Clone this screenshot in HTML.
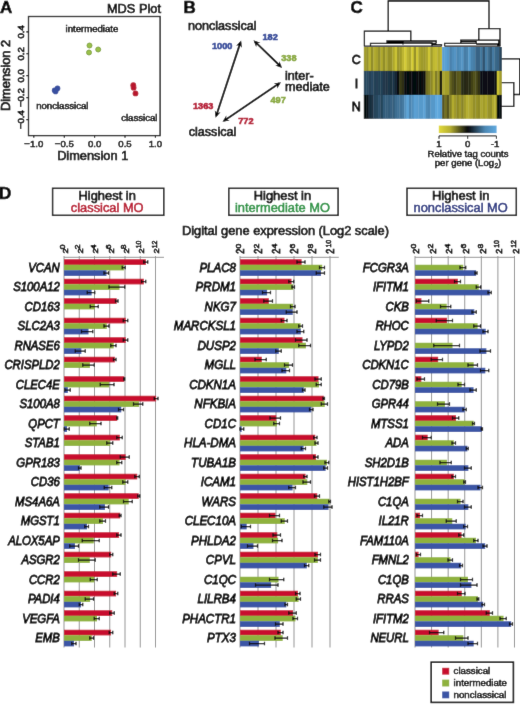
<!DOCTYPE html>
<html><head><meta charset="utf-8"><title>Figure</title>
<style>html,body{margin:0;padding:0;background:#fff;}svg{display:block;will-change:transform;transform:translateZ(0);}text{font-family:"Liberation Sans",sans-serif;}</style></head>
<body>
<svg width="520" height="705" viewBox="0 0 520 705">
<defs><filter id="soft" x="0" y="0" width="520" height="705" filterUnits="userSpaceOnUse"><feConvolveMatrix order="3" kernelMatrix="0.0049 0.0602 0.0049 0.0602 0.7396 0.0602 0.0049 0.0602 0.0049" divisor="1" edgeMode="duplicate" preserveAlpha="true"/></filter></defs>
<g filter="url(#soft)">
<rect x="-5" y="-5" width="530" height="715" fill="#fff"/>
<text x="0.00" y="12.90" font-size="17" text-anchor="start" font-weight="bold" font-style="normal" fill="#000" stroke="#000" stroke-width="0.55" >A</text>
<text x="161.00" y="12.60" font-size="12.8" text-anchor="end" font-weight="normal" font-style="normal" fill="#000" stroke="#000" stroke-width="0.62" >MDS Plot</text>
<rect x="28.5" y="16.5" width="131.6" height="119.1" fill="none" stroke="#000" stroke-width="1.3"/>
<path d="M26.3 31.9H28.5M26.3 53.8H28.5M26.3 75.6H28.5M26.3 97.6H28.5M26.3 119.6H28.5M33.8 135.5V137.8M64.3 135.5V137.8M94.6 135.5V137.8M125 135.5V137.8M155.4 135.5V137.8" stroke="#000" stroke-width="1.1" fill="none"/>
<text transform="translate(23.9,31.8) rotate(-90)" font-size="9.6" text-anchor="middle" fill="#000" stroke="#000" stroke-width="0.7">0.4</text>
<text transform="translate(23.9,53.8) rotate(-90)" font-size="9.6" text-anchor="middle" fill="#000" stroke="#000" stroke-width="0.7">0.2</text>
<text transform="translate(23.9,75.9) rotate(-90)" font-size="9.6" text-anchor="middle" fill="#000" stroke="#000" stroke-width="0.7">0.0</text>
<text transform="translate(23.9,97.6) rotate(-90)" font-size="9.6" text-anchor="middle" fill="#000" stroke="#000" stroke-width="0.7">−0.2</text>
<text transform="translate(23.9,119.6) rotate(-90)" font-size="9.6" text-anchor="middle" fill="#000" stroke="#000" stroke-width="0.7">−0.4</text>
<text transform="translate(10.4,75.4) rotate(-90)" font-size="12.8" text-anchor="middle" fill="#000" stroke="#000" stroke-width="0.7">Dimension 2</text>
<text x="33.80" y="147.00" font-size="9.6" text-anchor="middle" font-weight="normal" font-style="normal" fill="#000" stroke="#000" stroke-width="0.5" >−1.0</text>
<text x="64.30" y="147.00" font-size="9.6" text-anchor="middle" font-weight="normal" font-style="normal" fill="#000" stroke="#000" stroke-width="0.5" >−0.5</text>
<text x="94.60" y="147.00" font-size="9.6" text-anchor="middle" font-weight="normal" font-style="normal" fill="#000" stroke="#000" stroke-width="0.5" >0.0</text>
<text x="125.00" y="147.00" font-size="9.6" text-anchor="middle" font-weight="normal" font-style="normal" fill="#000" stroke="#000" stroke-width="0.5" >0.5</text>
<text x="155.40" y="147.00" font-size="9.6" text-anchor="middle" font-weight="normal" font-style="normal" fill="#000" stroke="#000" stroke-width="0.5" >1.0</text>
<text x="92.70" y="160.30" font-size="12.8" text-anchor="middle" font-weight="normal" font-style="normal" fill="#000" stroke="#000" stroke-width="0.62" >Dimension 1</text>
<text x="65.50" y="32.00" font-size="9.6" text-anchor="start" font-weight="normal" font-style="normal" fill="#000" stroke="#000" stroke-width="0.5" >intermediate</text>
<text x="36.20" y="108.80" font-size="9.6" text-anchor="start" font-weight="normal" font-style="normal" fill="#000" stroke="#000" stroke-width="0.5" >nonclassical</text>
<text x="121.20" y="121.30" font-size="9.6" text-anchor="start" font-weight="normal" font-style="normal" fill="#000" stroke="#000" stroke-width="0.5" >classical</text>
<circle cx="89.5" cy="45.5" r="2.5" fill="#9AC04A" stroke="#7C9F38" stroke-width="0.9"/>
<circle cx="89" cy="52.5" r="2.5" fill="#9AC04A" stroke="#7C9F38" stroke-width="0.9"/>
<circle cx="98.2" cy="49.5" r="2.5" fill="#9AC04A" stroke="#7C9F38" stroke-width="0.9"/>
<circle cx="54.6" cy="90.4" r="2.8" fill="#3850A0"/>
<circle cx="55.6" cy="91.4" r="2.8" fill="#3850A0"/>
<circle cx="57.5" cy="88.4" r="2.8" fill="#3850A0"/>
<circle cx="133.3" cy="85.2" r="2.9" fill="#B8182D"/>
<circle cx="133.6" cy="87.7" r="2.9" fill="#B8182D"/>
<circle cx="135.5" cy="93.4" r="2.9" fill="#B8182D"/>
<text x="183.60" y="12.90" font-size="17" text-anchor="start" font-weight="bold" font-style="normal" fill="#000" stroke="#000" stroke-width="0.55" >B</text>
<text x="188.00" y="30.00" font-size="12.6" text-anchor="start" font-weight="normal" font-style="normal" fill="#000" stroke="#000" stroke-width="0.62" >nonclassical</text>
<text x="188.70" y="136.30" font-size="12.6" text-anchor="start" font-weight="normal" font-style="normal" fill="#000" stroke="#000" stroke-width="0.62" >classical</text>
<text x="285.00" y="80.00" font-size="12.6" text-anchor="start" font-weight="normal" font-style="normal" fill="#000" stroke="#000" stroke-width="0.62" >inter-</text>
<text x="285.00" y="91.30" font-size="12.6" text-anchor="start" font-weight="normal" font-style="normal" fill="#000" stroke="#000" stroke-width="0.62" >mediate</text>
<text x="212.00" y="49.40" font-size="9.2" text-anchor="start" font-weight="bold" font-style="normal" fill="#33499A" stroke="#33499A" stroke-width="0.55" >1000</text>
<text x="262.50" y="40.00" font-size="9.2" text-anchor="start" font-weight="bold" font-style="normal" fill="#33499A" stroke="#33499A" stroke-width="0.55" >182</text>
<text x="281.20" y="61.30" font-size="9.2" text-anchor="start" font-weight="bold" font-style="normal" fill="#8AAA3F" stroke="#8AAA3F" stroke-width="0.55" >338</text>
<text x="270.50" y="103.10" font-size="9.2" text-anchor="start" font-weight="bold" font-style="normal" fill="#8AAA3F" stroke="#8AAA3F" stroke-width="0.55" >497</text>
<text x="193.00" y="108.80" font-size="9.2" text-anchor="start" font-weight="bold" font-style="normal" fill="#B5122F" stroke="#B5122F" stroke-width="0.55" >1363</text>
<text x="238.20" y="124.40" font-size="9.2" text-anchor="start" font-weight="bold" font-style="normal" fill="#B5122F" stroke="#B5122F" stroke-width="0.55" >772</text>
<line x1="240.47" y1="42.40" x2="216.23" y2="115.80" stroke="#000" stroke-width="1.9"/>
<polygon points="215.60,117.70 214.82,110.49 217.05,113.31 220.52,112.37" fill="#000"/>
<polygon points="241.10,40.50 236.18,45.83 239.65,44.89 241.88,47.71" fill="#000"/>
<line x1="254.94" y1="41.69" x2="280.66" y2="66.51" stroke="#000" stroke-width="1.9"/>
<polygon points="282.10,67.90 275.27,65.48 278.78,64.69 279.43,61.16" fill="#000"/>
<polygon points="253.50,40.30 256.17,47.04 256.82,43.51 260.33,42.72" fill="#000"/>
<line x1="224.16" y1="120.68" x2="279.34" y2="83.32" stroke="#000" stroke-width="1.9"/>
<polygon points="281.00,82.20 277.22,88.38 277.17,84.79 273.85,83.42" fill="#000"/>
<polygon points="222.50,121.80 229.65,120.58 226.33,119.21 226.28,115.62" fill="#000"/>
<text x="350.40" y="13.00" font-size="17" text-anchor="start" font-weight="bold" font-style="normal" fill="#000" stroke="#000" stroke-width="0.55" >C</text>
<rect x="363.80" y="47.00" width="2.72" height="24.20" fill="#a29d2c"/>
<rect x="366.17" y="47.00" width="2.72" height="24.20" fill="#96922a"/>
<rect x="368.55" y="47.00" width="2.72" height="24.20" fill="#b9b330"/>
<rect x="370.92" y="47.00" width="2.72" height="24.20" fill="#928d29"/>
<rect x="373.30" y="47.00" width="2.72" height="24.20" fill="#b2ac2f"/>
<rect x="375.67" y="47.00" width="2.72" height="24.20" fill="#a7a12d"/>
<rect x="378.04" y="47.00" width="2.72" height="24.20" fill="#928d29"/>
<rect x="380.42" y="47.00" width="2.72" height="24.20" fill="#b1ab2f"/>
<rect x="382.79" y="47.00" width="2.72" height="24.20" fill="#918d29"/>
<rect x="385.17" y="47.00" width="2.72" height="24.20" fill="#ada72e"/>
<rect x="387.54" y="47.00" width="2.72" height="24.20" fill="#949029"/>
<rect x="389.92" y="47.00" width="2.72" height="24.20" fill="#96912a"/>
<rect x="392.29" y="47.00" width="2.72" height="24.20" fill="#aea82e"/>
<rect x="394.66" y="47.00" width="2.72" height="24.20" fill="#cac234"/>
<rect x="397.04" y="47.00" width="2.72" height="24.20" fill="#9a952a"/>
<rect x="399.41" y="47.00" width="2.72" height="24.20" fill="#a19c2c"/>
<rect x="401.79" y="47.00" width="2.72" height="24.20" fill="#bdb631"/>
<rect x="404.16" y="47.00" width="2.72" height="24.20" fill="#d4cb36"/>
<rect x="406.53" y="47.00" width="2.72" height="24.20" fill="#bbb431"/>
<rect x="408.91" y="47.00" width="2.72" height="24.20" fill="#aea82e"/>
<rect x="411.28" y="47.00" width="2.72" height="24.20" fill="#d7ce36"/>
<rect x="413.66" y="47.00" width="2.72" height="24.20" fill="#97922a"/>
<rect x="416.03" y="47.00" width="2.72" height="24.20" fill="#d0c735"/>
<rect x="418.41" y="47.00" width="2.72" height="24.20" fill="#a9a32d"/>
<rect x="420.78" y="47.00" width="2.72" height="24.20" fill="#9f9a2b"/>
<rect x="423.15" y="47.00" width="2.72" height="24.20" fill="#9e982b"/>
<rect x="425.53" y="47.00" width="2.72" height="24.20" fill="#aba52e"/>
<rect x="427.90" y="47.00" width="2.72" height="24.20" fill="#cfc635"/>
<rect x="430.28" y="47.00" width="2.72" height="24.20" fill="#a39e2c"/>
<rect x="432.65" y="47.00" width="2.72" height="24.20" fill="#bfb832"/>
<rect x="435.02" y="47.00" width="2.72" height="24.20" fill="#c4bc32"/>
<rect x="437.40" y="47.00" width="2.72" height="24.20" fill="#b1ab2f"/>
<rect x="439.77" y="47.00" width="2.72" height="24.20" fill="#beb731"/>
<rect x="442.15" y="47.00" width="2.72" height="24.20" fill="#5aa0d3"/>
<rect x="444.52" y="47.00" width="2.72" height="24.20" fill="#5aa0d4"/>
<rect x="446.89" y="47.00" width="2.72" height="24.20" fill="#5699ca"/>
<rect x="449.27" y="47.00" width="2.72" height="24.20" fill="#4981ab"/>
<rect x="451.64" y="47.00" width="2.72" height="24.20" fill="#508ebc"/>
<rect x="454.02" y="47.00" width="2.72" height="24.20" fill="#5494c4"/>
<rect x="456.39" y="47.00" width="2.72" height="24.20" fill="#4c87b2"/>
<rect x="458.77" y="47.00" width="2.72" height="24.20" fill="#508ebb"/>
<rect x="461.14" y="47.00" width="2.72" height="24.20" fill="#5596c6"/>
<rect x="463.51" y="47.00" width="2.72" height="24.20" fill="#467da5"/>
<rect x="465.89" y="47.00" width="2.72" height="24.20" fill="#4982ac"/>
<rect x="468.26" y="47.00" width="2.72" height="24.20" fill="#579acb"/>
<rect x="470.64" y="47.00" width="2.72" height="24.20" fill="#4a83ad"/>
<rect x="473.01" y="47.00" width="2.72" height="24.20" fill="#477ea6"/>
<rect x="475.38" y="47.00" width="2.72" height="24.20" fill="#396485"/>
<rect x="477.76" y="47.00" width="2.72" height="24.20" fill="#396485"/>
<rect x="480.13" y="47.00" width="2.72" height="24.20" fill="#43779d"/>
<rect x="482.51" y="47.00" width="2.72" height="24.20" fill="#2f536e"/>
<rect x="484.88" y="47.00" width="2.72" height="24.20" fill="#477ea6"/>
<rect x="487.26" y="47.00" width="2.72" height="24.20" fill="#3e6e91"/>
<rect x="489.63" y="47.00" width="2.72" height="24.20" fill="#345c79"/>
<rect x="492.00" y="47.00" width="2.72" height="24.20" fill="#457aa1"/>
<rect x="494.38" y="47.00" width="2.72" height="24.20" fill="#3a6889"/>
<rect x="496.75" y="47.00" width="2.72" height="24.20" fill="#396485"/>
<rect x="499.13" y="47.00" width="2.72" height="24.20" fill="#26445a"/>
<rect x="363.80" y="70.90" width="2.72" height="24.30" fill="#28485f"/>
<rect x="366.17" y="70.90" width="2.72" height="24.30" fill="#294961"/>
<rect x="368.55" y="70.90" width="2.72" height="24.30" fill="#254258"/>
<rect x="370.92" y="70.90" width="2.72" height="24.30" fill="#2a4a62"/>
<rect x="373.30" y="70.90" width="2.72" height="24.30" fill="#254257"/>
<rect x="375.67" y="70.90" width="2.72" height="24.30" fill="#254157"/>
<rect x="378.04" y="70.90" width="2.72" height="24.30" fill="#244055"/>
<rect x="380.42" y="70.90" width="2.72" height="24.30" fill="#244055"/>
<rect x="382.79" y="70.90" width="2.72" height="24.30" fill="#20384b"/>
<rect x="385.17" y="70.90" width="2.72" height="24.30" fill="#1d3345"/>
<rect x="387.54" y="70.90" width="2.72" height="24.30" fill="#1f3749"/>
<rect x="389.92" y="70.90" width="2.72" height="24.30" fill="#1b3040"/>
<rect x="392.29" y="70.90" width="2.72" height="24.30" fill="#1f3648"/>
<rect x="394.66" y="70.90" width="2.72" height="24.30" fill="#172836"/>
<rect x="397.04" y="70.90" width="2.72" height="24.30" fill="#060b10"/>
<rect x="399.41" y="70.90" width="2.72" height="24.30" fill="#3a3b18"/>
<rect x="401.79" y="70.90" width="2.72" height="24.30" fill="#2e2f15"/>
<rect x="404.16" y="70.90" width="2.72" height="24.30" fill="#090d0e"/>
<rect x="406.53" y="70.90" width="2.72" height="24.30" fill="#060a0e"/>
<rect x="408.91" y="70.90" width="2.72" height="24.30" fill="#070b0e"/>
<rect x="411.28" y="70.90" width="2.72" height="24.30" fill="#070d12"/>
<rect x="413.66" y="70.90" width="2.72" height="24.30" fill="#060a0e"/>
<rect x="416.03" y="70.90" width="2.72" height="24.30" fill="#070c10"/>
<rect x="418.41" y="70.90" width="2.72" height="24.30" fill="#070c11"/>
<rect x="420.78" y="70.90" width="2.72" height="24.30" fill="#070c11"/>
<rect x="423.15" y="70.90" width="2.72" height="24.30" fill="#080c0e"/>
<rect x="425.53" y="70.90" width="2.72" height="24.30" fill="#716e22"/>
<rect x="427.90" y="70.90" width="2.72" height="24.30" fill="#7d7a25"/>
<rect x="430.28" y="70.90" width="2.72" height="24.30" fill="#8b8727"/>
<rect x="432.65" y="70.90" width="2.72" height="24.30" fill="#afa92e"/>
<rect x="435.02" y="70.90" width="2.72" height="24.30" fill="#807d25"/>
<rect x="437.40" y="70.90" width="2.72" height="24.30" fill="#9d982b"/>
<rect x="439.77" y="70.90" width="2.72" height="24.30" fill="#111410"/>
<rect x="442.15" y="70.90" width="2.72" height="24.30" fill="#aca62e"/>
<rect x="444.52" y="70.90" width="2.72" height="24.30" fill="#a39e2c"/>
<rect x="446.89" y="70.90" width="2.72" height="24.30" fill="#a29d2c"/>
<rect x="449.27" y="70.90" width="2.72" height="24.30" fill="#656320"/>
<rect x="451.64" y="70.90" width="2.72" height="24.30" fill="#4f4f1c"/>
<rect x="454.02" y="70.90" width="2.72" height="24.30" fill="#424219"/>
<rect x="456.39" y="70.90" width="2.72" height="24.30" fill="#5a591e"/>
<rect x="458.77" y="70.90" width="2.72" height="24.30" fill="#5c5b1e"/>
<rect x="461.14" y="70.90" width="2.72" height="24.30" fill="#272914"/>
<rect x="463.51" y="70.90" width="2.72" height="24.30" fill="#272914"/>
<rect x="465.89" y="70.90" width="2.72" height="24.30" fill="#2a2b15"/>
<rect x="468.26" y="70.90" width="2.72" height="24.30" fill="#282a14"/>
<rect x="470.64" y="70.90" width="2.72" height="24.30" fill="#404119"/>
<rect x="473.01" y="70.90" width="2.72" height="24.30" fill="#51511c"/>
<rect x="475.38" y="70.90" width="2.72" height="24.30" fill="#46461a"/>
<rect x="477.76" y="70.90" width="2.72" height="24.30" fill="#303116"/>
<rect x="480.13" y="70.90" width="2.72" height="24.30" fill="#090f15"/>
<rect x="482.51" y="70.90" width="2.72" height="24.30" fill="#091016"/>
<rect x="484.88" y="70.90" width="2.72" height="24.30" fill="#090f15"/>
<rect x="487.26" y="70.90" width="2.72" height="24.30" fill="#070d12"/>
<rect x="489.63" y="70.90" width="2.72" height="24.30" fill="#090f15"/>
<rect x="492.00" y="70.90" width="2.72" height="24.30" fill="#091117"/>
<rect x="494.38" y="70.90" width="2.72" height="24.30" fill="#091017"/>
<rect x="496.75" y="70.90" width="2.72" height="24.30" fill="#c9c133"/>
<rect x="499.13" y="70.90" width="2.72" height="24.30" fill="#a09b2c"/>
<rect x="363.80" y="94.90" width="2.72" height="23.90" fill="#060a0e"/>
<rect x="366.17" y="94.90" width="2.72" height="23.90" fill="#0a1218"/>
<rect x="368.55" y="94.90" width="2.72" height="23.90" fill="#1a2d3c"/>
<rect x="370.92" y="94.90" width="2.72" height="23.90" fill="#1d3343"/>
<rect x="373.30" y="94.90" width="2.72" height="23.90" fill="#26445a"/>
<rect x="375.67" y="94.90" width="2.72" height="23.90" fill="#28465d"/>
<rect x="378.04" y="94.90" width="2.72" height="23.90" fill="#2f536e"/>
<rect x="380.42" y="94.90" width="2.72" height="23.90" fill="#26445a"/>
<rect x="382.79" y="94.90" width="2.72" height="23.90" fill="#335b79"/>
<rect x="385.17" y="94.90" width="2.72" height="23.90" fill="#355e7d"/>
<rect x="387.54" y="94.90" width="2.72" height="23.90" fill="#345d7a"/>
<rect x="389.92" y="94.90" width="2.72" height="23.90" fill="#376181"/>
<rect x="392.29" y="94.90" width="2.72" height="23.90" fill="#355e7d"/>
<rect x="394.66" y="94.90" width="2.72" height="23.90" fill="#3d6d90"/>
<rect x="397.04" y="94.90" width="2.72" height="23.90" fill="#417398"/>
<rect x="399.41" y="94.90" width="2.72" height="23.90" fill="#417297"/>
<rect x="401.79" y="94.90" width="2.72" height="23.90" fill="#4479a0"/>
<rect x="404.16" y="94.90" width="2.72" height="23.90" fill="#5393c1"/>
<rect x="406.53" y="94.90" width="2.72" height="23.90" fill="#5ca3d7"/>
<rect x="408.91" y="94.90" width="2.72" height="23.90" fill="#4b85b0"/>
<rect x="411.28" y="94.90" width="2.72" height="23.90" fill="#518fbd"/>
<rect x="413.66" y="94.90" width="2.72" height="23.90" fill="#5aa0d3"/>
<rect x="416.03" y="94.90" width="2.72" height="23.90" fill="#589dcf"/>
<rect x="418.41" y="94.90" width="2.72" height="23.90" fill="#579acb"/>
<rect x="420.78" y="94.90" width="2.72" height="23.90" fill="#579acb"/>
<rect x="423.15" y="94.90" width="2.72" height="23.90" fill="#5ca3d7"/>
<rect x="425.53" y="94.90" width="2.72" height="23.90" fill="#4e8ab6"/>
<rect x="427.90" y="94.90" width="2.72" height="23.90" fill="#4b85b0"/>
<rect x="430.28" y="94.90" width="2.72" height="23.90" fill="#5698c9"/>
<rect x="432.65" y="94.90" width="2.72" height="23.90" fill="#5698c9"/>
<rect x="435.02" y="94.90" width="2.72" height="23.90" fill="#5ea7dc"/>
<rect x="437.40" y="94.90" width="2.72" height="23.90" fill="#5ea7dc"/>
<rect x="439.77" y="94.90" width="2.72" height="23.90" fill="#5a9fd2"/>
<rect x="442.15" y="94.90" width="2.72" height="23.90" fill="#56551d"/>
<rect x="444.52" y="94.90" width="2.72" height="23.90" fill="#737023"/>
<rect x="446.89" y="94.90" width="2.72" height="23.90" fill="#56551d"/>
<rect x="449.27" y="94.90" width="2.72" height="23.90" fill="#868227"/>
<rect x="451.64" y="94.90" width="2.72" height="23.90" fill="#b2ac2f"/>
<rect x="454.02" y="94.90" width="2.72" height="23.90" fill="#9f992b"/>
<rect x="456.39" y="94.90" width="2.72" height="23.90" fill="#8d8828"/>
<rect x="458.77" y="94.90" width="2.72" height="23.90" fill="#a09a2b"/>
<rect x="461.14" y="94.90" width="2.72" height="23.90" fill="#878427"/>
<rect x="463.51" y="94.90" width="2.72" height="23.90" fill="#9f9a2b"/>
<rect x="465.89" y="94.90" width="2.72" height="23.90" fill="#b5ae30"/>
<rect x="468.26" y="94.90" width="2.72" height="23.90" fill="#b0a92f"/>
<rect x="470.64" y="94.90" width="2.72" height="23.90" fill="#a8a22d"/>
<rect x="473.01" y="94.90" width="2.72" height="23.90" fill="#948f29"/>
<rect x="475.38" y="94.90" width="2.72" height="23.90" fill="#99942a"/>
<rect x="477.76" y="94.90" width="2.72" height="23.90" fill="#908b28"/>
<rect x="480.13" y="94.90" width="2.72" height="23.90" fill="#aca62e"/>
<rect x="482.51" y="94.90" width="2.72" height="23.90" fill="#a19c2c"/>
<rect x="484.88" y="94.90" width="2.72" height="23.90" fill="#ada72e"/>
<rect x="487.26" y="94.90" width="2.72" height="23.90" fill="#98932a"/>
<rect x="489.63" y="94.90" width="2.72" height="23.90" fill="#938f29"/>
<rect x="492.00" y="94.90" width="2.72" height="23.90" fill="#afa92f"/>
<rect x="494.38" y="94.90" width="2.72" height="23.90" fill="#b8b130"/>
<rect x="496.75" y="94.90" width="2.72" height="23.90" fill="#060b0f"/>
<rect x="499.13" y="94.90" width="2.72" height="23.90" fill="#070c10"/>
<text x="356.30" y="63.60" font-size="12.5" text-anchor="middle" font-weight="normal" font-style="normal" fill="#000" stroke="#000" stroke-width="0.8" >C</text>
<text x="356.40" y="87.50" font-size="12.5" text-anchor="middle" font-weight="normal" font-style="normal" fill="#000" stroke="#000" stroke-width="0.8" >I</text>
<text x="356.30" y="110.50" font-size="12.5" text-anchor="middle" font-weight="normal" font-style="normal" fill="#000" stroke="#000" stroke-width="0.8" >N</text>
<path d="M388.2 31.2 V1 H489 V28.6 M364.4 46.5 V31.2 H410.8 V41 M387 43.4 V41 H436.2 V43.4 M387 42.3 H403 V44.6 M370.5 46.3 V43.4 H403 M403 43 H432 V46.3 M430 43.4 H436.2 M432 44.6 H441.5 V46.3 M478.8 40.2 V28.6 H500 V46.3 M498.6 46.3 V39.6 M460.8 43.2 V40.2 H498.6 M460.8 41.7 H476.2 V43.6 M444.6 46.3 V43.3 H476.2 M476.2 44 H497.7 V46.3" fill="none" stroke="#000" stroke-width="1.3"/>
<path d="M364.4 46.2 H441.6 M444.6 46.2 H500.4" fill="none" stroke="#222" stroke-width="1.3"/>
<path d="M501.8 58.8 H520 M501.8 82.6 H513.8 V106.3 H501.8 M513.8 94.5 H520 M519.7 58.8 V94.5" fill="none" stroke="#000" stroke-width="1.3"/>
<defs><linearGradient id="cb" x1="0" x2="1" y1="0" y2="0"><stop offset="0" stop-color="#e2da3a"/><stop offset="0.2" stop-color="#b4ae30"/><stop offset="0.5" stop-color="#05080c"/><stop offset="0.8" stop-color="#4c88b4"/><stop offset="1" stop-color="#60aae0"/></linearGradient></defs>
<rect x="438.8" y="125.6" width="57.8" height="7.5" fill="url(#cb)"/>
<path d="M439 138.8 V135.9 H496.4 V138.8 M467.7 135.9 V138.8" fill="none" stroke="#111" stroke-width="1"/>
<text x="439.00" y="147.20" font-size="9.6" text-anchor="middle" font-weight="normal" font-style="normal" fill="#000" stroke="#000" stroke-width="0.5" >1</text>
<text x="467.70" y="147.20" font-size="9.6" text-anchor="middle" font-weight="normal" font-style="normal" fill="#000" stroke="#000" stroke-width="0.5" >0</text>
<text x="495.00" y="147.20" font-size="9.6" text-anchor="middle" font-weight="normal" font-style="normal" fill="#000" stroke="#000" stroke-width="0.5" >-1</text>
<text x="468.00" y="157.40" font-size="9.5" text-anchor="middle" font-weight="normal" font-style="normal" fill="#000" stroke="#000" stroke-width="0.5" >Relative tag counts</text>
<text x="468.00" y="166.10" font-size="9.5" text-anchor="middle" font-weight="normal" font-style="normal" fill="#000" stroke="#000" stroke-width="0.5" >per gene (Log<tspan font-size="6.5" dy="1.6" dx="0.4">2</tspan><tspan dy="-1.6">)</tspan></text>
<text x="-1.10" y="199.20" font-size="17" text-anchor="start" font-weight="bold" font-style="normal" fill="#000" stroke="#000" stroke-width="0.55" >D</text>
<rect x="52.6" y="188.3" width="111.2" height="27.0" fill="#fff" stroke="#111" stroke-width="1.5"/>
<text x="107.20" y="200.20" font-size="12.9" text-anchor="middle" font-weight="normal" font-style="normal" fill="#000" stroke="#000" stroke-width="0.62" >Highest in</text>
<text x="107.20" y="212.30" font-size="12.85" text-anchor="middle" font-weight="normal" font-style="normal" fill="#B80F29" stroke="#B80F29" stroke-width="0.5" >classical MO</text>
<rect x="228.8" y="188.3" width="109.3" height="27.0" fill="#fff" stroke="#111" stroke-width="1.5"/>
<text x="282.45" y="200.20" font-size="12.9" text-anchor="middle" font-weight="normal" font-style="normal" fill="#000" stroke="#000" stroke-width="0.62" >Highest in</text>
<text x="282.45" y="212.30" font-size="12.85" text-anchor="middle" font-weight="normal" font-style="normal" fill="#2A9444" stroke="#2A9444" stroke-width="0.5" >intermediate MO</text>
<rect x="407" y="188.3" width="109.3" height="27.0" fill="#fff" stroke="#111" stroke-width="1.5"/>
<text x="460.65" y="200.20" font-size="12.9" text-anchor="middle" font-weight="normal" font-style="normal" fill="#000" stroke="#000" stroke-width="0.62" >Highest in</text>
<text x="460.65" y="212.30" font-size="12.85" text-anchor="middle" font-weight="normal" font-style="normal" fill="#27347F" stroke="#27347F" stroke-width="0.5" >nonclassical MO</text>
<text x="182.00" y="235.10" font-size="12.8" text-anchor="start" font-weight="normal" font-style="normal" fill="#000" stroke="#000" stroke-width="0.62" >Digital gene expression (Log2 scale)</text>
<line x1="64.00" y1="256.0" x2="64.00" y2="647.5" stroke="#949494" stroke-width="1"/>
<text transform="translate(67.75,253.4) rotate(-90) scale(1,0.85)" font-size="9.2" fill="#000" stroke="#000" stroke-width="0.7">2</text>
<text transform="translate(65.00,249.2) rotate(-90) scale(1,0.83)" font-size="8.6" fill="#000" stroke="#000" stroke-width="0.7">0</text>
<line x1="79.25" y1="256.0" x2="79.25" y2="647.5" stroke="#949494" stroke-width="1"/>
<text transform="translate(83.00,253.4) rotate(-90) scale(1,0.85)" font-size="9.2" fill="#000" stroke="#000" stroke-width="0.7">2</text>
<text transform="translate(80.25,249.2) rotate(-90) scale(1,0.83)" font-size="8.6" fill="#000" stroke="#000" stroke-width="0.7">2</text>
<line x1="94.50" y1="256.0" x2="94.50" y2="647.5" stroke="#949494" stroke-width="1"/>
<text transform="translate(98.25,253.4) rotate(-90) scale(1,0.85)" font-size="9.2" fill="#000" stroke="#000" stroke-width="0.7">2</text>
<text transform="translate(95.50,249.2) rotate(-90) scale(1,0.83)" font-size="8.6" fill="#000" stroke="#000" stroke-width="0.7">4</text>
<line x1="109.75" y1="256.0" x2="109.75" y2="647.5" stroke="#949494" stroke-width="1"/>
<text transform="translate(113.50,253.4) rotate(-90) scale(1,0.85)" font-size="9.2" fill="#000" stroke="#000" stroke-width="0.7">2</text>
<text transform="translate(110.75,249.2) rotate(-90) scale(1,0.83)" font-size="8.6" fill="#000" stroke="#000" stroke-width="0.7">6</text>
<line x1="125.00" y1="256.0" x2="125.00" y2="647.5" stroke="#949494" stroke-width="1"/>
<text transform="translate(128.75,253.4) rotate(-90) scale(1,0.85)" font-size="9.2" fill="#000" stroke="#000" stroke-width="0.7">2</text>
<text transform="translate(126.00,249.2) rotate(-90) scale(1,0.83)" font-size="8.6" fill="#000" stroke="#000" stroke-width="0.7">8</text>
<line x1="140.25" y1="256.0" x2="140.25" y2="647.5" stroke="#949494" stroke-width="1"/>
<text transform="translate(144.00,253.4) rotate(-90) scale(1,0.85)" font-size="9.2" fill="#000" stroke="#000" stroke-width="0.7">2</text>
<text transform="translate(141.25,248.29999999999998) rotate(-90) scale(0.8,0.83)" font-size="8.6" fill="#000" stroke="#000" stroke-width="0.7">10</text>
<line x1="155.50" y1="256.0" x2="155.50" y2="647.5" stroke="#949494" stroke-width="1"/>
<text transform="translate(159.25,253.4) rotate(-90) scale(1,0.85)" font-size="9.2" fill="#000" stroke="#000" stroke-width="0.7">2</text>
<text transform="translate(156.50,248.29999999999998) rotate(-90) scale(0.8,0.83)" font-size="8.6" fill="#000" stroke="#000" stroke-width="0.7">12</text>
<line x1="64.00" y1="257.3" x2="164.00" y2="257.3" stroke="#949494" stroke-width="1"/>
<rect x="64.00" y="259.25" width="81.93" height="5.65" fill="#C8102E"/>
<rect x="64.00" y="264.75" width="59.93" height="5.65" fill="#8FB23C"/>
<rect x="64.00" y="270.25" width="42.48" height="5.65" fill="#3B55A5"/>
<text transform="translate(59.80,271.55) scale(0.93,1)" font-size="12.20" text-anchor="end" font-style="italic" fill="#000" stroke="#000" stroke-width="0.85">VCAN</text>
<rect x="64.00" y="278.75" width="79.83" height="5.65" fill="#C8102E"/>
<rect x="64.00" y="284.25" width="55.48" height="5.65" fill="#8FB23C"/>
<rect x="64.00" y="289.75" width="27.63" height="5.65" fill="#3B55A5"/>
<text transform="translate(59.80,291.05) scale(0.93,1)" font-size="12.20" text-anchor="end" font-style="italic" fill="#000" stroke="#000" stroke-width="0.85">S100A12</text>
<rect x="64.00" y="298.25" width="52.66" height="5.65" fill="#C8102E"/>
<rect x="64.00" y="303.75" width="30.96" height="5.65" fill="#8FB23C"/>
<text transform="translate(59.80,310.55) scale(0.93,1)" font-size="12.20" text-anchor="end" font-style="italic" fill="#000" stroke="#000" stroke-width="0.85">CD163</text>
<rect x="64.00" y="317.75" width="61.73" height="5.65" fill="#C8102E"/>
<rect x="64.00" y="323.25" width="42.78" height="5.65" fill="#8FB23C"/>
<rect x="64.00" y="328.75" width="24.50" height="5.65" fill="#3B55A5"/>
<text transform="translate(59.80,330.05) scale(0.93,1)" font-size="12.20" text-anchor="end" font-style="italic" fill="#000" stroke="#000" stroke-width="0.85">SLC2A3</text>
<rect x="64.00" y="337.25" width="61.73" height="5.65" fill="#C8102E"/>
<rect x="64.00" y="342.75" width="49.69" height="5.65" fill="#8FB23C"/>
<rect x="64.00" y="348.25" width="17.35" height="5.65" fill="#3B55A5"/>
<text transform="translate(59.80,349.55) scale(0.93,1)" font-size="12.20" text-anchor="end" font-style="italic" fill="#000" stroke="#000" stroke-width="0.85">RNASE6</text>
<rect x="64.00" y="356.75" width="50.79" height="5.65" fill="#C8102E"/>
<rect x="64.00" y="362.25" width="25.94" height="5.65" fill="#8FB23C"/>
<text transform="translate(59.80,369.05) scale(0.93,1)" font-size="12.20" text-anchor="end" font-style="italic" fill="#000" stroke="#000" stroke-width="0.85">CRISPLD2</text>
<rect x="64.00" y="376.25" width="60.25" height="5.65" fill="#C8102E"/>
<rect x="64.00" y="381.75" width="45.15" height="5.65" fill="#8FB23C"/>
<rect x="64.00" y="387.25" width="3.84" height="5.65" fill="#3B55A5"/>
<text transform="translate(59.80,388.55) scale(0.93,1)" font-size="12.20" text-anchor="end" font-style="italic" fill="#000" stroke="#000" stroke-width="0.85">CLEC4E</text>
<rect x="64.00" y="395.75" width="92.14" height="5.65" fill="#C8102E"/>
<rect x="64.00" y="401.25" width="75.07" height="5.65" fill="#8FB23C"/>
<rect x="64.00" y="406.75" width="57.28" height="5.65" fill="#3B55A5"/>
<text transform="translate(59.80,408.05) scale(0.93,1)" font-size="12.20" text-anchor="end" font-style="italic" fill="#000" stroke="#000" stroke-width="0.85">S100A8</text>
<rect x="64.00" y="415.25" width="53.25" height="5.65" fill="#C8102E"/>
<rect x="64.00" y="420.75" width="32.75" height="5.65" fill="#8FB23C"/>
<rect x="64.00" y="426.25" width="3.03" height="5.65" fill="#3B55A5"/>
<text transform="translate(59.80,427.55) scale(0.93,1)" font-size="12.20" text-anchor="end" font-style="italic" fill="#000" stroke="#000" stroke-width="0.85">QPCT</text>
<rect x="64.00" y="434.75" width="55.84" height="5.65" fill="#C8102E"/>
<rect x="64.00" y="440.25" width="46.15" height="5.65" fill="#8FB23C"/>
<text transform="translate(59.80,447.05) scale(0.93,1)" font-size="12.20" text-anchor="end" font-style="italic" fill="#000" stroke="#000" stroke-width="0.85">STAB1</text>
<rect x="64.00" y="454.25" width="61.65" height="5.65" fill="#C8102E"/>
<rect x="64.00" y="459.75" width="55.53" height="5.65" fill="#8FB23C"/>
<rect x="64.00" y="465.25" width="15.79" height="5.65" fill="#3B55A5"/>
<text transform="translate(59.80,466.55) scale(0.93,1)" font-size="12.20" text-anchor="end" font-style="italic" fill="#000" stroke="#000" stroke-width="0.85">GPR183</text>
<rect x="64.00" y="473.75" width="73.23" height="5.65" fill="#C8102E"/>
<rect x="64.00" y="479.25" width="61.53" height="5.65" fill="#8FB23C"/>
<rect x="64.00" y="484.75" width="44.63" height="5.65" fill="#3B55A5"/>
<text transform="translate(59.80,486.05) scale(0.93,1)" font-size="12.20" text-anchor="end" font-style="italic" fill="#000" stroke="#000" stroke-width="0.85">CD36</text>
<rect x="64.00" y="493.25" width="74.65" height="5.65" fill="#C8102E"/>
<rect x="64.00" y="498.75" width="64.72" height="5.65" fill="#8FB23C"/>
<rect x="64.00" y="504.25" width="40.97" height="5.65" fill="#3B55A5"/>
<text transform="translate(59.80,505.55) scale(0.93,1)" font-size="12.20" text-anchor="end" font-style="italic" fill="#000" stroke="#000" stroke-width="0.85">MS4A6A</text>
<rect x="64.00" y="512.75" width="56.20" height="5.65" fill="#C8102E"/>
<rect x="64.00" y="518.25" width="39.00" height="5.65" fill="#8FB23C"/>
<rect x="64.00" y="523.75" width="23.02" height="5.65" fill="#3B55A5"/>
<text transform="translate(59.80,525.05) scale(0.93,1)" font-size="12.20" text-anchor="end" font-style="italic" fill="#000" stroke="#000" stroke-width="0.85">MGST1</text>
<rect x="64.00" y="532.25" width="55.08" height="5.65" fill="#C8102E"/>
<rect x="64.00" y="537.75" width="29.75" height="5.65" fill="#8FB23C"/>
<rect x="64.00" y="543.25" width="10.97" height="5.65" fill="#3B55A5"/>
<text transform="translate(59.80,544.55) scale(0.93,1)" font-size="12.20" text-anchor="end" font-style="italic" fill="#000" stroke="#000" stroke-width="0.85">ALOX5AP</text>
<rect x="64.00" y="551.75" width="47.18" height="5.65" fill="#C8102E"/>
<rect x="64.00" y="557.25" width="25.80" height="5.65" fill="#8FB23C"/>
<text transform="translate(59.80,564.05) scale(0.93,1)" font-size="12.20" text-anchor="end" font-style="italic" fill="#000" stroke="#000" stroke-width="0.85">ASGR2</text>
<rect x="64.00" y="571.25" width="53.13" height="5.65" fill="#C8102E"/>
<rect x="64.00" y="576.75" width="30.30" height="5.65" fill="#8FB23C"/>
<text transform="translate(59.80,583.55) scale(0.93,1)" font-size="12.20" text-anchor="end" font-style="italic" fill="#000" stroke="#000" stroke-width="0.85">CCR2</text>
<rect x="64.00" y="590.75" width="52.07" height="5.65" fill="#C8102E"/>
<rect x="64.00" y="596.25" width="26.13" height="5.65" fill="#8FB23C"/>
<rect x="64.00" y="601.75" width="17.07" height="5.65" fill="#3B55A5"/>
<text transform="translate(59.80,603.05) scale(0.93,1)" font-size="12.20" text-anchor="end" font-style="italic" fill="#000" stroke="#000" stroke-width="0.85">PADI4</text>
<rect x="64.00" y="610.25" width="48.23" height="5.65" fill="#C8102E"/>
<rect x="64.00" y="615.75" width="33.03" height="5.65" fill="#8FB23C"/>
<text transform="translate(59.80,622.55) scale(0.93,1)" font-size="12.20" text-anchor="end" font-style="italic" fill="#000" stroke="#000" stroke-width="0.85">VEGFA</text>
<rect x="64.00" y="629.75" width="47.07" height="5.65" fill="#C8102E"/>
<rect x="64.00" y="635.25" width="27.77" height="5.65" fill="#8FB23C"/>
<rect x="64.00" y="640.75" width="10.08" height="5.65" fill="#3B55A5"/>
<text transform="translate(59.80,642.05) scale(0.93,1)" font-size="12.20" text-anchor="end" font-style="italic" fill="#000" stroke="#000" stroke-width="0.85">EMB</text>
<path d="M143.75 262.00H147.75M143.75 260.30v3.4M147.75 260.30v3.4M122.25 267.50H125.25M122.25 265.80v3.4M125.25 265.80v3.4M104.00 273.00H108.50M104.00 271.30v3.4M108.50 271.30v3.4M141.50 281.50H145.75M141.50 279.80v3.4M145.75 279.80v3.4M109.00 287.00H124.75M109.00 285.30v3.4M124.75 285.30v3.4M87.25 292.50H94.75M87.25 290.80v3.4M94.75 290.80v3.4M115.50 301.00H118.00M115.50 299.30v3.4M118.00 299.30v3.4M90.25 306.50H98.25M90.25 304.80v3.4M98.25 304.80v3.4M123.25 320.50H127.75M123.25 318.80v3.4M127.75 318.80v3.4M104.00 326.00H109.00M104.00 324.30v3.4M109.00 324.30v3.4M81.50 331.50H92.75M81.50 329.80v3.4M92.75 329.80v3.4M123.25 340.00H127.75M123.25 338.30v3.4M127.75 338.30v3.4M110.75 345.50H116.00M110.75 343.80v3.4M116.00 343.80v3.4M75.25 351.00H85.25M75.25 349.30v3.4M85.25 349.30v3.4M113.50 359.50H116.00M113.50 357.80v3.4M116.00 357.80v3.4M82.75 365.00H94.25M82.75 363.30v3.4M94.25 363.30v3.4M123.80 379.00H124.70M123.80 377.30v3.4M124.70 377.30v3.4M100.25 384.50H114.00M100.25 382.80v3.4M114.00 382.80v3.4M64.75 390.00H70.25M64.75 388.30v3.4M70.25 388.30v3.4M154.25 398.50H158.00M154.25 396.80v3.4M158.00 396.80v3.4M133.50 404.00H142.75M133.50 402.30v3.4M142.75 402.30v3.4M118.50 409.50H123.50M118.50 407.80v3.4M123.50 407.80v3.4M116.80 418.00H117.70M116.80 416.30v3.4M117.70 416.30v3.4M89.75 423.50H101.00M89.75 421.80v3.4M101.00 421.80v3.4M64.25 429.00H69.25M64.25 427.30v3.4M69.25 427.30v3.4M116.75 437.50H122.25M116.75 435.80v3.4M122.25 435.80v3.4M106.75 443.00H112.75M106.75 441.30v3.4M112.75 441.30v3.4M120.25 457.00H129.25M120.25 455.30v3.4M129.25 455.30v3.4M116.75 462.50H121.75M116.75 460.80v3.4M121.75 460.80v3.4M78.50 468.00H81.00M78.50 466.30v3.4M81.00 466.30v3.4M134.75 476.50H139.25M134.75 474.80v3.4M139.25 474.80v3.4M122.75 482.00H127.75M122.75 480.30v3.4M127.75 480.30v3.4M104.25 487.50H111.75M104.25 485.80v3.4M111.75 485.80v3.4M137.75 496.00H139.75M137.75 494.30v3.4M139.75 494.30v3.4M123.50 501.50H132.25M123.50 499.80v3.4M132.25 499.80v3.4M99.75 507.00H108.50M99.75 505.30v3.4M108.50 505.30v3.4M119.25 515.50H121.00M119.25 513.80v3.4M121.00 513.80v3.4M99.75 521.00H105.50M99.75 519.30v3.4M105.50 519.30v3.4M84.75 526.50H88.50M84.75 524.80v3.4M88.50 524.80v3.4M116.75 535.00H121.00M116.75 533.30v3.4M121.00 533.30v3.4M82.25 540.50H99.25M82.25 538.80v3.4M99.25 538.80v3.4M69.75 546.00H78.50M69.75 544.30v3.4M78.50 544.30v3.4M109.75 554.50H112.75M109.75 552.80v3.4M112.75 552.80v3.4M78.50 560.00H95.25M78.50 558.30v3.4M95.25 558.30v3.4M112.75 574.00H120.25M112.75 572.30v3.4M120.25 572.30v3.4M90.25 579.50H97.25M90.25 577.80v3.4M97.25 577.80v3.4M114.25 593.50H117.75M114.25 591.80v3.4M117.75 591.80v3.4M85.25 599.00H93.50M85.25 597.30v3.4M93.50 597.30v3.4M79.25 604.50H82.75M79.25 602.80v3.4M82.75 602.80v3.4M109.75 613.00H114.25M109.75 611.30v3.4M114.25 611.30v3.4M94.25 618.50H99.25M94.25 616.80v3.4M99.25 616.80v3.4M109.25 632.50H112.75M109.25 630.80v3.4M112.75 630.80v3.4M89.75 638.00H93.50M89.75 636.30v3.4M93.50 636.30v3.4M71.75 643.50H76.00M71.75 641.80v3.4M76.00 641.80v3.4" stroke="#111" stroke-width="1.25" fill="none"/>
<line x1="240.00" y1="256.0" x2="240.00" y2="647.5" stroke="#949494" stroke-width="1"/>
<text transform="translate(243.50,253.7) rotate(-90) scale(1,1.13)" font-size="9.1" fill="#000" stroke="#000" stroke-width="0.7">2</text>
<text transform="translate(241.20,248.5) rotate(-90) scale(1,0.9)" font-size="8.6" fill="#000" stroke="#000" stroke-width="0.7">0</text>
<line x1="258.00" y1="256.0" x2="258.00" y2="647.5" stroke="#949494" stroke-width="1"/>
<text transform="translate(261.50,253.7) rotate(-90) scale(1,1.13)" font-size="9.1" fill="#000" stroke="#000" stroke-width="0.7">2</text>
<text transform="translate(259.20,248.5) rotate(-90) scale(1,0.9)" font-size="8.6" fill="#000" stroke="#000" stroke-width="0.7">2</text>
<line x1="276.00" y1="256.0" x2="276.00" y2="647.5" stroke="#949494" stroke-width="1"/>
<text transform="translate(279.50,253.7) rotate(-90) scale(1,1.13)" font-size="9.1" fill="#000" stroke="#000" stroke-width="0.7">2</text>
<text transform="translate(277.20,248.5) rotate(-90) scale(1,0.9)" font-size="8.6" fill="#000" stroke="#000" stroke-width="0.7">4</text>
<line x1="294.00" y1="256.0" x2="294.00" y2="647.5" stroke="#949494" stroke-width="1"/>
<text transform="translate(297.50,253.7) rotate(-90) scale(1,1.13)" font-size="9.1" fill="#000" stroke="#000" stroke-width="0.7">2</text>
<text transform="translate(295.20,248.5) rotate(-90) scale(1,0.9)" font-size="8.6" fill="#000" stroke="#000" stroke-width="0.7">6</text>
<line x1="312.00" y1="256.0" x2="312.00" y2="647.5" stroke="#949494" stroke-width="1"/>
<text transform="translate(315.50,253.7) rotate(-90) scale(1,1.13)" font-size="9.1" fill="#000" stroke="#000" stroke-width="0.7">2</text>
<text transform="translate(313.20,248.5) rotate(-90) scale(1,0.9)" font-size="8.6" fill="#000" stroke="#000" stroke-width="0.7">8</text>
<line x1="330.00" y1="256.0" x2="330.00" y2="647.5" stroke="#949494" stroke-width="1"/>
<text transform="translate(333.50,253.7) rotate(-90) scale(1,1.13)" font-size="9.1" fill="#000" stroke="#000" stroke-width="0.7">2</text>
<text transform="translate(331.20,247.6) rotate(-90) scale(0.8,0.9)" font-size="8.6" fill="#000" stroke="#000" stroke-width="0.7">10</text>
<line x1="240.00" y1="257.3" x2="338.80" y2="257.3" stroke="#949494" stroke-width="1"/>
<rect x="240.00" y="259.25" width="61.61" height="5.65" fill="#C8102E"/>
<rect x="240.00" y="264.75" width="82.24" height="5.65" fill="#8FB23C"/>
<rect x="240.00" y="270.25" width="81.02" height="5.65" fill="#3B55A5"/>
<text transform="translate(236.00,271.55) scale(0.93,1)" font-size="12.42" text-anchor="end" font-style="italic" fill="#000" stroke="#000" stroke-width="0.85">PLAC8</text>
<rect x="240.00" y="278.75" width="51.49" height="5.65" fill="#C8102E"/>
<rect x="240.00" y="284.25" width="53.16" height="5.65" fill="#8FB23C"/>
<rect x="240.00" y="289.75" width="27.11" height="5.65" fill="#3B55A5"/>
<text transform="translate(236.00,291.05) scale(0.93,1)" font-size="12.42" text-anchor="end" font-style="italic" fill="#000" stroke="#000" stroke-width="0.85">PRDM1</text>
<rect x="240.00" y="298.25" width="28.85" height="5.65" fill="#C8102E"/>
<rect x="240.00" y="303.75" width="52.94" height="5.65" fill="#8FB23C"/>
<rect x="240.00" y="309.25" width="52.71" height="5.65" fill="#3B55A5"/>
<text transform="translate(236.00,310.55) scale(0.93,1)" font-size="12.42" text-anchor="end" font-style="italic" fill="#000" stroke="#000" stroke-width="0.85">NKG7</text>
<rect x="240.00" y="317.75" width="44.44" height="5.65" fill="#C8102E"/>
<rect x="240.00" y="323.25" width="60.63" height="5.65" fill="#8FB23C"/>
<rect x="240.00" y="328.75" width="60.81" height="5.65" fill="#3B55A5"/>
<text transform="translate(236.00,330.05) scale(0.93,1)" font-size="12.42" text-anchor="end" font-style="italic" fill="#000" stroke="#000" stroke-width="0.85">MARCKSL1</text>
<rect x="240.00" y="337.25" width="62.48" height="5.65" fill="#C8102E"/>
<rect x="240.00" y="342.75" width="65.91" height="5.65" fill="#8FB23C"/>
<rect x="240.00" y="348.25" width="38.79" height="5.65" fill="#3B55A5"/>
<text transform="translate(236.00,349.55) scale(0.93,1)" font-size="12.42" text-anchor="end" font-style="italic" fill="#000" stroke="#000" stroke-width="0.85">DUSP2</text>
<rect x="240.00" y="356.75" width="21.81" height="5.65" fill="#C8102E"/>
<rect x="240.00" y="362.25" width="49.11" height="5.65" fill="#8FB23C"/>
<rect x="240.00" y="367.75" width="46.28" height="5.65" fill="#3B55A5"/>
<text transform="translate(236.00,369.05) scale(0.93,1)" font-size="12.42" text-anchor="end" font-style="italic" fill="#000" stroke="#000" stroke-width="0.85">MGLL</text>
<rect x="240.00" y="376.25" width="78.50" height="5.65" fill="#C8102E"/>
<rect x="240.00" y="381.75" width="78.99" height="5.65" fill="#8FB23C"/>
<rect x="240.00" y="387.25" width="63.78" height="5.65" fill="#3B55A5"/>
<text transform="translate(236.00,388.55) scale(0.93,1)" font-size="12.42" text-anchor="end" font-style="italic" fill="#000" stroke="#000" stroke-width="0.85">CDKN1A</text>
<rect x="240.00" y="395.75" width="83.76" height="5.65" fill="#C8102E"/>
<rect x="240.00" y="401.25" width="84.75" height="5.65" fill="#8FB23C"/>
<rect x="240.00" y="406.75" width="71.31" height="5.65" fill="#3B55A5"/>
<text transform="translate(236.00,408.05) scale(0.93,1)" font-size="12.42" text-anchor="end" font-style="italic" fill="#000" stroke="#000" stroke-width="0.85">NFKBIA</text>
<rect x="240.00" y="415.25" width="36.28" height="5.65" fill="#C8102E"/>
<rect x="240.00" y="420.75" width="36.94" height="5.65" fill="#8FB23C"/>
<rect x="240.00" y="426.25" width="1.63" height="5.65" fill="#3B55A5"/>
<text transform="translate(236.00,427.55) scale(0.93,1)" font-size="12.42" text-anchor="end" font-style="italic" fill="#000" stroke="#000" stroke-width="0.85">CD1C</text>
<rect x="240.00" y="434.75" width="75.24" height="5.65" fill="#C8102E"/>
<rect x="240.00" y="440.25" width="76.42" height="5.65" fill="#8FB23C"/>
<rect x="240.00" y="445.75" width="63.55" height="5.65" fill="#3B55A5"/>
<text transform="translate(236.00,447.05) scale(0.93,1)" font-size="12.42" text-anchor="end" font-style="italic" fill="#000" stroke="#000" stroke-width="0.85">HLA-DMA</text>
<rect x="240.00" y="454.25" width="76.05" height="5.65" fill="#C8102E"/>
<rect x="240.00" y="459.75" width="87.00" height="5.65" fill="#8FB23C"/>
<rect x="240.00" y="465.25" width="85.63" height="5.65" fill="#3B55A5"/>
<text transform="translate(236.00,466.55) scale(0.93,1)" font-size="12.42" text-anchor="end" font-style="italic" fill="#000" stroke="#000" stroke-width="0.85">TUBA1B</text>
<rect x="240.00" y="473.75" width="65.49" height="5.65" fill="#C8102E"/>
<rect x="240.00" y="479.25" width="67.28" height="5.65" fill="#8FB23C"/>
<rect x="240.00" y="484.75" width="52.56" height="5.65" fill="#3B55A5"/>
<text transform="translate(236.00,486.05) scale(0.93,1)" font-size="12.42" text-anchor="end" font-style="italic" fill="#000" stroke="#000" stroke-width="0.85">ICAM1</text>
<rect x="240.00" y="493.25" width="77.24" height="5.65" fill="#C8102E"/>
<rect x="240.00" y="498.75" width="89.58" height="5.65" fill="#8FB23C"/>
<rect x="240.00" y="504.25" width="88.52" height="5.65" fill="#3B55A5"/>
<text transform="translate(236.00,505.55) scale(0.93,1)" font-size="12.42" text-anchor="end" font-style="italic" fill="#000" stroke="#000" stroke-width="0.85">WARS</text>
<rect x="240.00" y="512.75" width="35.44" height="5.65" fill="#C8102E"/>
<rect x="240.00" y="518.25" width="44.75" height="5.65" fill="#8FB23C"/>
<rect x="240.00" y="523.75" width="6.68" height="5.65" fill="#3B55A5"/>
<text transform="translate(236.00,525.05) scale(0.93,1)" font-size="12.42" text-anchor="end" font-style="italic" fill="#000" stroke="#000" stroke-width="0.85">CLEC10A</text>
<rect x="240.00" y="532.25" width="37.28" height="5.65" fill="#C8102E"/>
<rect x="240.00" y="537.75" width="38.10" height="5.65" fill="#8FB23C"/>
<rect x="240.00" y="543.25" width="13.44" height="5.65" fill="#3B55A5"/>
<text transform="translate(236.00,544.55) scale(0.93,1)" font-size="12.42" text-anchor="end" font-style="italic" fill="#000" stroke="#000" stroke-width="0.85">PHLDA2</text>
<rect x="240.00" y="551.75" width="78.04" height="5.65" fill="#C8102E"/>
<rect x="240.00" y="557.25" width="77.84" height="5.65" fill="#8FB23C"/>
<rect x="240.00" y="562.75" width="66.80" height="5.65" fill="#3B55A5"/>
<text transform="translate(236.00,564.05) scale(0.93,1)" font-size="12.42" text-anchor="end" font-style="italic" fill="#000" stroke="#000" stroke-width="0.85">CPVL</text>
<rect x="240.00" y="576.75" width="38.49" height="5.65" fill="#8FB23C"/>
<rect x="240.00" y="582.25" width="31.11" height="5.65" fill="#3B55A5"/>
<text transform="translate(236.00,583.55) scale(0.93,1)" font-size="12.42" text-anchor="end" font-style="italic" fill="#000" stroke="#000" stroke-width="0.85">C1QC</text>
<rect x="240.00" y="590.75" width="57.94" height="5.65" fill="#C8102E"/>
<rect x="240.00" y="596.25" width="58.55" height="5.65" fill="#8FB23C"/>
<rect x="240.00" y="601.75" width="46.28" height="5.65" fill="#3B55A5"/>
<text transform="translate(236.00,603.05) scale(0.93,1)" font-size="12.42" text-anchor="end" font-style="italic" fill="#000" stroke="#000" stroke-width="0.85">LILRB4</text>
<rect x="240.00" y="610.25" width="53.03" height="5.65" fill="#C8102E"/>
<rect x="240.00" y="615.75" width="55.44" height="5.65" fill="#8FB23C"/>
<rect x="240.00" y="621.25" width="39.78" height="5.65" fill="#3B55A5"/>
<text transform="translate(236.00,622.55) scale(0.93,1)" font-size="12.42" text-anchor="end" font-style="italic" fill="#000" stroke="#000" stroke-width="0.85">PHACTR1</text>
<rect x="240.00" y="629.75" width="40.74" height="5.65" fill="#C8102E"/>
<rect x="240.00" y="635.25" width="42.70" height="5.65" fill="#8FB23C"/>
<rect x="240.00" y="640.75" width="19.06" height="5.65" fill="#3B55A5"/>
<text transform="translate(236.00,642.05) scale(0.93,1)" font-size="12.42" text-anchor="end" font-style="italic" fill="#000" stroke="#000" stroke-width="0.85">PTX3</text>
<path d="M297.00 262.00H305.00M297.00 260.30v3.4M305.00 260.30v3.4M319.50 267.50H324.50M319.50 265.80v3.4M324.50 265.80v3.4M316.25 273.00H324.50M316.25 271.30v3.4M324.50 271.30v3.4M288.75 281.50H293.75M288.75 279.80v3.4M293.75 279.80v3.4M292.00 287.00H294.50M292.00 285.30v3.4M294.50 285.30v3.4M262.50 292.50H270.50M262.50 290.80v3.4M270.50 290.80v3.4M263.75 301.00H272.50M263.75 299.30v3.4M272.50 299.30v3.4M290.50 306.50H295.00M290.50 304.80v3.4M295.00 304.80v3.4M286.25 312.00H297.00M286.25 310.30v3.4M297.00 310.30v3.4M281.25 320.50H287.00M281.25 318.80v3.4M287.00 318.80v3.4M298.75 326.00H302.50M298.75 324.30v3.4M302.50 324.30v3.4M297.00 331.50H303.75M297.00 329.80v3.4M303.75 329.80v3.4M295.50 340.00H307.00M295.50 338.30v3.4M307.00 338.30v3.4M298.75 345.50H310.50M298.75 343.80v3.4M310.50 343.80v3.4M275.75 351.00H281.25M275.75 349.30v3.4M281.25 349.30v3.4M255.00 359.50H266.25M255.00 357.80v3.4M266.25 357.80v3.4M284.50 365.00H292.50M284.50 363.30v3.4M292.50 363.30v3.4M282.00 370.50H289.50M282.00 368.80v3.4M289.50 368.80v3.4M315.00 379.00H321.25M315.00 377.30v3.4M321.25 377.30v3.4M316.25 384.50H321.25M316.25 382.80v3.4M321.25 382.80v3.4M302.50 390.00H305.00M302.50 388.30v3.4M305.00 388.30v3.4M323.00 398.50H324.50M323.00 396.80v3.4M324.50 396.80v3.4M321.25 404.00H327.50M321.25 402.30v3.4M327.50 402.30v3.4M309.50 409.50H313.00M309.50 407.80v3.4M313.00 407.80v3.4M270.00 418.00H280.50M270.00 416.30v3.4M280.50 416.30v3.4M273.75 423.50H279.50M273.75 421.80v3.4M279.50 421.80v3.4M240.00 429.00H243.75M240.00 427.30v3.4M243.75 427.30v3.4M313.75 437.50H317.00M313.75 435.80v3.4M317.00 435.80v3.4M315.00 443.00H318.00M315.00 441.30v3.4M318.00 441.30v3.4M301.25 448.50H305.50M301.25 446.80v3.4M305.50 446.80v3.4M313.75 457.00H318.00M313.75 455.30v3.4M318.00 455.30v3.4M325.00 462.50H328.75M325.00 460.80v3.4M328.75 460.80v3.4M323.75 468.00H327.50M323.75 466.30v3.4M327.50 466.30v3.4M303.75 476.50H307.00M303.75 474.80v3.4M307.00 474.80v3.4M303.00 482.00H310.50M303.00 480.30v3.4M310.50 480.30v3.4M288.75 487.50H295.50M288.75 485.80v3.4M295.50 485.80v3.4M314.50 496.00H319.50M314.50 494.30v3.4M319.50 494.30v3.4M328.75 501.50H330.50M328.75 499.80v3.4M330.50 499.80v3.4M323.75 507.00H332.00M323.75 505.30v3.4M332.00 505.30v3.4M269.50 515.50H279.50M269.50 513.80v3.4M279.50 513.80v3.4M281.25 521.00H287.50M281.25 519.30v3.4M287.50 519.30v3.4M241.25 526.50H250.50M241.25 524.80v3.4M250.50 524.80v3.4M273.00 535.00H280.50M273.00 533.30v3.4M280.50 533.30v3.4M272.50 540.50H282.00M272.50 538.80v3.4M282.00 538.80v3.4M247.50 546.00H257.50M247.50 544.30v3.4M257.50 544.30v3.4M315.00 554.50H320.50M315.00 552.80v3.4M320.50 552.80v3.4M314.50 560.00H320.50M314.50 558.30v3.4M320.50 558.30v3.4M304.50 565.50H308.75M304.50 563.80v3.4M308.75 563.80v3.4M269.50 579.50H283.75M269.50 577.80v3.4M283.75 577.80v3.4M255.50 585.00H278.00M255.50 583.30v3.4M278.00 583.30v3.4M295.50 593.50H300.00M295.50 591.80v3.4M300.00 591.80v3.4M296.25 599.00H300.50M296.25 597.30v3.4M300.50 597.30v3.4M285.00 604.50H287.50M285.00 602.80v3.4M287.50 602.80v3.4M288.75 613.00H296.25M288.75 611.30v3.4M296.25 611.30v3.4M293.00 618.50H297.50M293.00 616.80v3.4M297.50 616.80v3.4M275.50 624.00H283.00M275.50 622.30v3.4M283.00 622.30v3.4M278.00 632.50H283.00M278.00 630.80v3.4M283.00 630.80v3.4M275.00 638.00H287.50M275.00 636.30v3.4M287.50 636.30v3.4M249.50 643.50H264.50M249.50 641.80v3.4M264.50 641.80v3.4" stroke="#111" stroke-width="1.25" fill="none"/>
<line x1="415.00" y1="256.0" x2="415.00" y2="647.5" stroke="#949494" stroke-width="1"/>
<text transform="translate(419.20,253.7) rotate(-90) scale(1,1.03)" font-size="9.1" fill="#000" stroke="#000" stroke-width="0.7">2</text>
<text transform="translate(416.40,248.6) rotate(-90) scale(1,0.92)" font-size="8.6" fill="#000" stroke="#000" stroke-width="0.7">0</text>
<line x1="431.58" y1="256.0" x2="431.58" y2="647.5" stroke="#949494" stroke-width="1"/>
<text transform="translate(435.78,253.7) rotate(-90) scale(1,1.03)" font-size="9.1" fill="#000" stroke="#000" stroke-width="0.7">2</text>
<text transform="translate(432.98,248.6) rotate(-90) scale(1,0.92)" font-size="8.6" fill="#000" stroke="#000" stroke-width="0.7">2</text>
<line x1="448.16" y1="256.0" x2="448.16" y2="647.5" stroke="#949494" stroke-width="1"/>
<text transform="translate(452.36,253.7) rotate(-90) scale(1,1.03)" font-size="9.1" fill="#000" stroke="#000" stroke-width="0.7">2</text>
<text transform="translate(449.56,248.6) rotate(-90) scale(1,0.92)" font-size="8.6" fill="#000" stroke="#000" stroke-width="0.7">4</text>
<line x1="464.74" y1="256.0" x2="464.74" y2="647.5" stroke="#949494" stroke-width="1"/>
<text transform="translate(468.94,253.7) rotate(-90) scale(1,1.03)" font-size="9.1" fill="#000" stroke="#000" stroke-width="0.7">2</text>
<text transform="translate(466.14,248.6) rotate(-90) scale(1,0.92)" font-size="8.6" fill="#000" stroke="#000" stroke-width="0.7">6</text>
<line x1="481.32" y1="256.0" x2="481.32" y2="647.5" stroke="#949494" stroke-width="1"/>
<text transform="translate(485.52,253.7) rotate(-90) scale(1,1.03)" font-size="9.1" fill="#000" stroke="#000" stroke-width="0.7">2</text>
<text transform="translate(482.72,248.6) rotate(-90) scale(1,0.92)" font-size="8.6" fill="#000" stroke="#000" stroke-width="0.7">8</text>
<line x1="497.90" y1="256.0" x2="497.90" y2="647.5" stroke="#949494" stroke-width="1"/>
<text transform="translate(502.10,253.7) rotate(-90) scale(1,1.03)" font-size="9.1" fill="#000" stroke="#000" stroke-width="0.7">2</text>
<text transform="translate(499.30,247.7) rotate(-90) scale(0.8,0.92)" font-size="8.6" fill="#000" stroke="#000" stroke-width="0.7">10</text>
<line x1="514.48" y1="256.0" x2="514.48" y2="647.5" stroke="#949494" stroke-width="1"/>
<text transform="translate(518.68,253.7) rotate(-90) scale(1,1.03)" font-size="9.1" fill="#000" stroke="#000" stroke-width="0.7">2</text>
<text transform="translate(515.88,247.7) rotate(-90) scale(0.8,0.92)" font-size="8.6" fill="#000" stroke="#000" stroke-width="0.7">12</text>
<line x1="415.00" y1="257.3" x2="514.48" y2="257.3" stroke="#949494" stroke-width="1"/>
<rect x="415.00" y="264.75" width="48.22" height="5.65" fill="#8FB23C"/>
<rect x="415.00" y="270.25" width="61.15" height="5.65" fill="#3B55A5"/>
<text transform="translate(408.80,271.55) scale(0.93,1)" font-size="12.20" text-anchor="end" font-style="italic" fill="#000" stroke="#000" stroke-width="0.85">FCGR3A</text>
<rect x="415.00" y="278.75" width="42.87" height="5.65" fill="#C8102E"/>
<rect x="415.00" y="284.25" width="63.71" height="5.65" fill="#8FB23C"/>
<rect x="415.00" y="289.75" width="74.87" height="5.65" fill="#3B55A5"/>
<text transform="translate(408.80,291.05) scale(0.93,1)" font-size="12.20" text-anchor="end" font-style="italic" fill="#000" stroke="#000" stroke-width="0.85">IFITM1</text>
<rect x="415.00" y="298.25" width="6.40" height="5.65" fill="#C8102E"/>
<rect x="415.00" y="303.75" width="31.69" height="5.65" fill="#8FB23C"/>
<rect x="415.00" y="309.25" width="59.31" height="5.65" fill="#3B55A5"/>
<text transform="translate(408.80,310.55) scale(0.93,1)" font-size="12.20" text-anchor="end" font-style="italic" fill="#000" stroke="#000" stroke-width="0.85">CKB</text>
<rect x="415.00" y="317.75" width="31.95" height="5.65" fill="#C8102E"/>
<rect x="415.00" y="323.25" width="62.60" height="5.65" fill="#8FB23C"/>
<rect x="415.00" y="328.75" width="70.76" height="5.65" fill="#3B55A5"/>
<text transform="translate(408.80,330.05) scale(0.93,1)" font-size="12.20" text-anchor="end" font-style="italic" fill="#000" stroke="#000" stroke-width="0.85">RHOC</text>
<rect x="415.00" y="342.75" width="37.52" height="5.65" fill="#8FB23C"/>
<rect x="415.00" y="348.25" width="71.37" height="5.65" fill="#3B55A5"/>
<text transform="translate(408.80,349.55) scale(0.93,1)" font-size="12.20" text-anchor="end" font-style="italic" fill="#000" stroke="#000" stroke-width="0.85">LYPD2</text>
<rect x="415.00" y="356.75" width="23.15" height="5.65" fill="#C8102E"/>
<rect x="415.00" y="362.25" width="58.67" height="5.65" fill="#8FB23C"/>
<rect x="415.00" y="367.75" width="70.32" height="5.65" fill="#3B55A5"/>
<text transform="translate(408.80,369.05) scale(0.93,1)" font-size="12.20" text-anchor="end" font-style="italic" fill="#000" stroke="#000" stroke-width="0.85">CDKN1C</text>
<rect x="415.00" y="376.25" width="6.33" height="5.65" fill="#C8102E"/>
<rect x="415.00" y="381.75" width="46.69" height="5.65" fill="#8FB23C"/>
<rect x="415.00" y="387.25" width="58.53" height="5.65" fill="#3B55A5"/>
<text transform="translate(408.80,388.55) scale(0.93,1)" font-size="12.20" text-anchor="end" font-style="italic" fill="#000" stroke="#000" stroke-width="0.85">CD79B</text>
<rect x="415.00" y="401.25" width="29.95" height="5.65" fill="#8FB23C"/>
<rect x="415.00" y="406.75" width="49.62" height="5.65" fill="#3B55A5"/>
<text transform="translate(408.80,408.05) scale(0.93,1)" font-size="12.20" text-anchor="end" font-style="italic" fill="#000" stroke="#000" stroke-width="0.85">GPR44</text>
<rect x="415.00" y="415.25" width="41.03" height="5.65" fill="#C8102E"/>
<rect x="415.00" y="420.75" width="58.65" height="5.65" fill="#8FB23C"/>
<rect x="415.00" y="426.25" width="66.95" height="5.65" fill="#3B55A5"/>
<text transform="translate(408.80,427.55) scale(0.93,1)" font-size="12.20" text-anchor="end" font-style="italic" fill="#000" stroke="#000" stroke-width="0.85">MTSS1</text>
<rect x="415.00" y="434.75" width="12.66" height="5.65" fill="#C8102E"/>
<rect x="415.00" y="440.25" width="38.81" height="5.65" fill="#8FB23C"/>
<rect x="415.00" y="445.75" width="52.40" height="5.65" fill="#3B55A5"/>
<text transform="translate(408.80,447.05) scale(0.93,1)" font-size="12.20" text-anchor="end" font-style="italic" fill="#000" stroke="#000" stroke-width="0.85">ADA</text>
<rect x="415.00" y="459.75" width="31.90" height="5.65" fill="#8FB23C"/>
<rect x="415.00" y="465.25" width="53.35" height="5.65" fill="#3B55A5"/>
<text transform="translate(408.80,466.55) scale(0.93,1)" font-size="12.20" text-anchor="end" font-style="italic" fill="#000" stroke="#000" stroke-width="0.85">SH2D1B</text>
<rect x="415.00" y="473.75" width="38.81" height="5.65" fill="#C8102E"/>
<rect x="415.00" y="479.25" width="49.58" height="5.65" fill="#8FB23C"/>
<rect x="415.00" y="484.75" width="65.46" height="5.65" fill="#3B55A5"/>
<text transform="translate(408.80,486.05) scale(0.93,1)" font-size="12.20" text-anchor="end" font-style="italic" fill="#000" stroke="#000" stroke-width="0.85">HIST1H2BF</text>
<rect x="415.00" y="498.75" width="45.56" height="5.65" fill="#8FB23C"/>
<rect x="415.00" y="504.25" width="53.35" height="5.65" fill="#3B55A5"/>
<text transform="translate(408.80,505.55) scale(0.93,1)" font-size="12.20" text-anchor="end" font-style="italic" fill="#000" stroke="#000" stroke-width="0.85">C1QA</text>
<rect x="415.00" y="512.75" width="5.06" height="5.65" fill="#C8102E"/>
<rect x="415.00" y="518.25" width="37.27" height="5.65" fill="#8FB23C"/>
<rect x="415.00" y="523.75" width="50.64" height="5.65" fill="#3B55A5"/>
<text transform="translate(408.80,525.05) scale(0.93,1)" font-size="12.20" text-anchor="end" font-style="italic" fill="#000" stroke="#000" stroke-width="0.85">IL21R</text>
<rect x="415.00" y="532.25" width="46.51" height="5.65" fill="#C8102E"/>
<rect x="415.00" y="537.75" width="61.06" height="5.65" fill="#8FB23C"/>
<rect x="415.00" y="543.25" width="70.17" height="5.65" fill="#3B55A5"/>
<text transform="translate(408.80,544.55) scale(0.93,1)" font-size="12.20" text-anchor="end" font-style="italic" fill="#000" stroke="#000" stroke-width="0.85">FAM110A</text>
<rect x="415.00" y="551.75" width="3.56" height="5.65" fill="#C8102E"/>
<rect x="415.00" y="557.25" width="35.46" height="5.65" fill="#8FB23C"/>
<rect x="415.00" y="562.75" width="46.17" height="5.65" fill="#3B55A5"/>
<text transform="translate(408.80,564.05) scale(0.93,1)" font-size="12.20" text-anchor="end" font-style="italic" fill="#000" stroke="#000" stroke-width="0.85">FMNL2</text>
<rect x="415.00" y="576.75" width="52.95" height="5.65" fill="#8FB23C"/>
<rect x="415.00" y="582.25" width="56.39" height="5.65" fill="#3B55A5"/>
<text transform="translate(408.80,583.55) scale(0.93,1)" font-size="12.20" text-anchor="end" font-style="italic" fill="#000" stroke="#000" stroke-width="0.85">C1QB</text>
<rect x="415.00" y="590.75" width="46.83" height="5.65" fill="#C8102E"/>
<rect x="415.00" y="596.25" width="62.95" height="5.65" fill="#8FB23C"/>
<rect x="415.00" y="601.75" width="68.16" height="5.65" fill="#3B55A5"/>
<text transform="translate(408.80,603.05) scale(0.93,1)" font-size="12.20" text-anchor="end" font-style="italic" fill="#000" stroke="#000" stroke-width="0.85">RRAS</text>
<rect x="415.00" y="610.25" width="74.78" height="5.65" fill="#C8102E"/>
<rect x="415.00" y="615.75" width="88.53" height="5.65" fill="#8FB23C"/>
<rect x="415.00" y="621.25" width="96.17" height="5.65" fill="#3B55A5"/>
<text transform="translate(408.80,622.55) scale(0.93,1)" font-size="12.20" text-anchor="end" font-style="italic" fill="#000" stroke="#000" stroke-width="0.85">IFITM2</text>
<rect x="415.00" y="629.75" width="23.63" height="5.65" fill="#C8102E"/>
<rect x="415.00" y="635.25" width="48.31" height="5.65" fill="#8FB23C"/>
<rect x="415.00" y="640.75" width="58.67" height="5.65" fill="#3B55A5"/>
<text transform="translate(408.80,642.05) scale(0.93,1)" font-size="12.20" text-anchor="end" font-style="italic" fill="#000" stroke="#000" stroke-width="0.85">NEURL</text>
<path d="M460.00 267.50H465.75M460.00 265.80v3.4M465.75 265.80v3.4M475.00 273.00H477.00M475.00 271.30v3.4M477.00 271.30v3.4M454.50 281.50H460.50M454.50 279.80v3.4M460.50 279.80v3.4M476.25 287.00H480.75M476.25 285.30v3.4M480.75 285.30v3.4M488.00 292.50H491.25M488.00 290.80v3.4M491.25 290.80v3.4M416.25 301.00H428.75M416.25 299.30v3.4M428.75 299.30v3.4M440.50 306.50H450.75M440.50 304.80v3.4M450.75 304.80v3.4M472.00 312.00H476.25M472.00 310.30v3.4M476.25 310.30v3.4M436.25 320.50H452.50M436.25 318.80v3.4M452.50 318.80v3.4M473.75 326.00H480.50M473.75 324.30v3.4M480.50 324.30v3.4M483.00 331.50H488.00M483.00 329.80v3.4M488.00 329.80v3.4M433.75 345.50H459.50M433.75 343.80v3.4M459.50 343.80v3.4M480.00 351.00H490.50M480.00 349.30v3.4M490.50 349.30v3.4M431.25 359.50H442.50M431.25 357.80v3.4M442.50 357.80v3.4M468.00 365.00H477.50M468.00 363.30v3.4M477.50 363.30v3.4M480.50 370.50H488.75M480.50 368.80v3.4M488.75 368.80v3.4M417.00 379.00H424.50M417.00 377.30v3.4M424.50 377.30v3.4M458.00 384.50H464.50M458.00 382.80v3.4M464.50 382.80v3.4M470.00 390.00H476.25M470.00 388.30v3.4M476.25 388.30v3.4M437.50 404.00H449.50M437.50 402.30v3.4M449.50 402.30v3.4M463.00 409.50H466.25M463.00 407.80v3.4M466.25 407.80v3.4M452.50 418.00H458.75M452.50 416.30v3.4M458.75 416.30v3.4M472.50 423.50H474.50M472.50 421.80v3.4M474.50 421.80v3.4M481.25 429.00H482.50M481.25 427.30v3.4M482.50 427.30v3.4M422.50 437.50H431.25M422.50 435.80v3.4M431.25 435.80v3.4M452.00 443.00H455.50M452.00 441.30v3.4M455.50 441.30v3.4M466.25 448.50H468.25M466.25 446.80v3.4M468.25 446.80v3.4M440.00 462.50H451.25M440.00 460.80v3.4M451.25 460.80v3.4M464.50 468.00H471.25M464.50 466.30v3.4M471.25 466.30v3.4M452.00 476.50H455.50M452.00 474.80v3.4M455.50 474.80v3.4M463.75 482.00H465.50M463.75 480.30v3.4M465.50 480.30v3.4M478.00 487.50H482.50M478.00 485.80v3.4M482.50 485.80v3.4M457.50 501.50H463.00M457.50 499.80v3.4M463.00 499.80v3.4M464.50 507.00H471.25M464.50 505.30v3.4M471.25 505.30v3.4M417.00 515.50H422.50M417.00 513.80v3.4M422.50 513.80v3.4M446.25 521.00H456.25M446.25 519.30v3.4M456.25 519.30v3.4M463.75 526.50H467.50M463.75 524.80v3.4M467.50 524.80v3.4M458.75 535.00H463.75M458.75 533.30v3.4M463.75 533.30v3.4M473.75 540.50H478.00M473.75 538.80v3.4M478.00 538.80v3.4M483.00 546.00H487.00M483.00 544.30v3.4M487.00 544.30v3.4M416.25 554.50H420.50M416.25 552.80v3.4M420.50 552.80v3.4M448.00 560.00H452.50M448.00 558.30v3.4M452.50 558.30v3.4M459.50 565.50H462.50M459.50 563.80v3.4M462.50 563.80v3.4M460.50 579.50H472.50M460.50 577.80v3.4M472.50 577.80v3.4M460.50 585.00H477.00M460.50 583.30v3.4M477.00 583.30v3.4M457.50 593.50H465.00M457.50 591.80v3.4M465.00 591.80v3.4M477.00 599.00H478.75M477.00 597.30v3.4M478.75 597.30v3.4M482.00 604.50H484.50M482.00 602.80v3.4M484.50 602.80v3.4M486.25 613.00H492.50M486.25 611.30v3.4M492.50 611.30v3.4M500.00 618.50H506.25M500.00 616.80v3.4M506.25 616.80v3.4M509.50 624.00H512.50M509.50 622.30v3.4M512.50 622.30v3.4M429.50 632.50H443.75M429.50 630.80v3.4M443.75 630.80v3.4M455.50 638.00H468.00M455.50 636.30v3.4M468.00 636.30v3.4M468.00 643.50H477.50M468.00 641.80v3.4M477.50 641.80v3.4" stroke="#111" stroke-width="1.25" fill="none"/>
<rect x="431.2" y="662.2" width="82.2" height="40.2" fill="#fff" stroke="#000" stroke-width="1.6"/>
<rect x="442.2" y="667.80" width="7" height="6.8" fill="#C8102E"/>
<text x="453.60" y="674.30" font-size="9.7" text-anchor="start" font-weight="normal" font-style="normal" fill="#000" stroke="#000" stroke-width="0.5" >classical</text>
<rect x="442.2" y="679.65" width="7" height="6.8" fill="#8FB23C"/>
<text x="453.60" y="686.15" font-size="9.7" text-anchor="start" font-weight="normal" font-style="normal" fill="#000" stroke="#000" stroke-width="0.5" >intermediate</text>
<rect x="442.2" y="691.50" width="7" height="6.8" fill="#3B55A5"/>
<text x="453.60" y="698.00" font-size="9.7" text-anchor="start" font-weight="normal" font-style="normal" fill="#000" stroke="#000" stroke-width="0.5" >nonclassical</text>
</g>
</svg>
</body></html>
